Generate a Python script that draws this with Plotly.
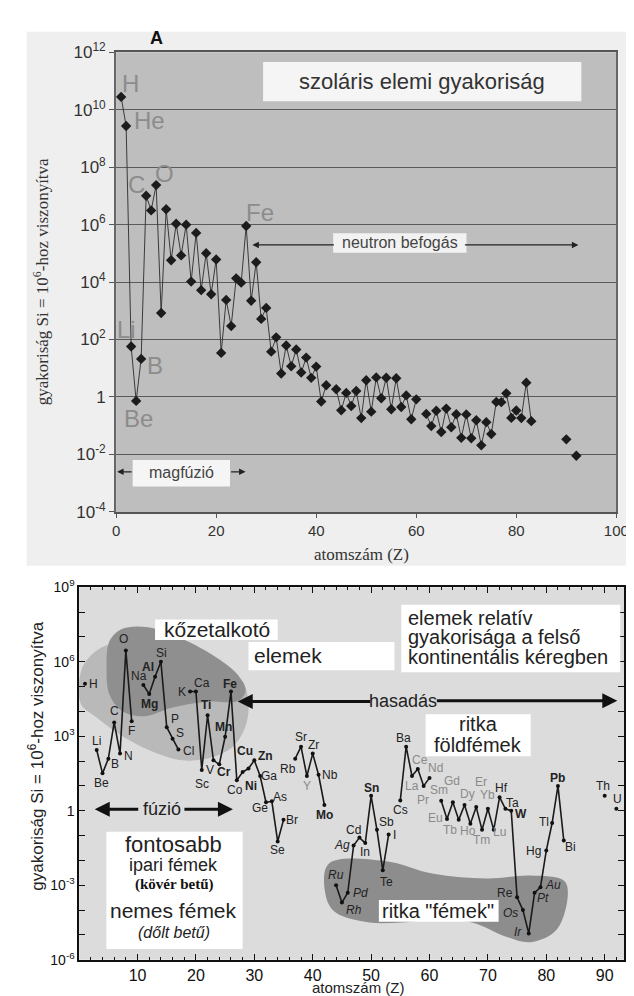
import numpy as np
import plotly.graph_objects as go

W, H = 634, 996

SYMBOLS = ["H","He","Li","Be","B","C","N","O","F","Ne","Na","Mg","Al","Si","P","S","Cl","Ar","K","Ca",
           "Sc","Ti","V","Cr","Mn","Fe","Co","Ni","Cu","Zn","Ga","Ge","As","Se","Br","Kr","Rb","Sr","Y","Zr",
           "Nb","Mo","Tc","Ru","Rh","Pd","Ag","Cd","In","Sn","Sb","Te","I","Xe","Cs","Ba","La","Ce","Pr","Nd",
           "Pm","Sm","Eu","Gd","Tb","Dy","Ho","Er","Tm","Yb","Lu","Hf","Ta","W","Re","Os","Ir","Pt","Au","Hg",
           "Tl","Pb","Bi","Po","At","Rn","Fr","Ra","Ac","Th","Pa","U"]

# --- panel A: solar abundances (Si = 1e6)
SOLAR_Z = list(range(1, 43)) + list(range(44, 61)) + list(range(62, 84)) + [90, 92]
SOLAR_VAL = [2.79e10, 2.72e9, 57.1, 0.73, 21.2, 1.01e7, 3.13e6, 2.38e7, 843, 3.44e6,
             5.74e4, 1.074e6, 8.49e4, 1.0e6, 1.04e4, 5.15e5, 5240, 1.01e5, 3770, 6.11e4,
             34.2, 2400, 293, 1.35e4, 9550, 9.0e5, 2250, 4.93e4, 522, 1260,
             37.8, 119, 6.56, 62.1, 11.8, 45, 7.09, 23.5, 4.64, 11.4,
             0.698, 2.55,
             1.86, 0.344, 1.39, 0.486, 1.61, 0.184, 3.82, 0.309, 4.81, 0.9,
             4.7, 0.372, 4.49, 0.446, 1.136, 0.167, 0.828,
             0.258, 0.097, 0.33, 0.0603, 0.394, 0.0889, 0.251, 0.0378, 0.248, 0.0367,
             0.154, 0.0207, 0.133, 0.0517, 0.675, 0.661, 1.34, 0.187, 0.34, 0.184,
             3.15, 0.144,
             0.0335, 0.009]

# --- bottom panel: upper continental crust (Si = 1e6)
CRUST_Z = [1] + list(range(3, 10)) + list(range(11, 18)) + list(range(19, 36)) + list(range(37, 43)) + \
          list(range(44, 54)) + list(range(55, 61)) + list(range(62, 84)) + [90, 92]
CRUST_VAL = [1.3e5,
             280, 32, 125, 3600, 200, 2.8e6, 4000,
             1.15e5, 5.0e4, 2.5e5, 1.0e6, 2300, 800, 290,
             6.3e4, 6.3e4, 44, 7000, 107, 74, 950, 6.3e4, 17, 36, 50, 107, 25, 2.2, 2.4, 0.058, 0.43,
             125, 380, 25, 200, 28, 1.7,
             1.0e-3, 2.0e-4, 5.0e-4, 0.04, 0.083, 0.05, 4.0, 0.17, 0.004, 0.11,
             2.6, 380, 25, 48, 10, 21,
             2.5, 0.47, 2.2, 0.43, 1.7, 0.3, 1.4, 0.17, 1.2, 0.17, 3.5, 1.2, 1.0,
             3.3e-4, 1.0e-4, 1.15e-5, 5.0e-4, 8.3e-4, 0.025, 0.32, 10, 0.063,
             4.0, 1.2]

BOLD = {"Mg", "Al", "Ti", "Mn", "Fe", "Cr", "Cu", "Zn", "Ni", "Mo", "Sn", "W", "Pb"}
ITALIC = {"Ru", "Rh", "Pd", "Ag", "Os", "Ir", "Pt", "Au"}
GRAY = {"La", "Ce", "Pr", "Nd", "Sm", "Eu", "Gd", "Tb", "Dy", "Ho", "Er", "Tm", "Yb", "Lu", "Y"}

# label offsets (pixels: right, up) for the crust panel
LBL = {"H": (9, 0), "Li": (0, 9), "Be": (-1, -10), "B": (7, -5), "C": (0, 11), "N": (8, -2),
       "O": (-2, 12), "F": (0, -10), "Na": (-4, 9), "Mg": (0, -10), "Al": (-7, 10), "Si": (1, 9),
       "P": (8, 8), "S": (7, 6), "Cl": (10, -1), "K": (-8, 0), "Ca": (6, 9), "Sc": (0, -14),
       "Ti": (-2, 10), "V": (-3, -10), "Cr": (5, -8), "Mn": (-2, 10), "Fe": (-1, 8), "Co": (-2, -10),
       "Ni": (8, -14), "Cu": (-3, 18), "Zn": (11, 4), "Ga": (9, 0), "Ge": (-6, -6), "As": (8, 4),
       "Se": (0, -9), "Br": (8, 0), "Rb": (-7, -10), "Sr": (0, 10), "Y": (0, -10), "Zr": (1, 9),
       "Nb": (11, 0), "Mo": (0, -10), "Ru": (0, 10), "Rh": (12, -7), "Pd": (13, 0), "Ag": (-12, 0),
       "Cd": (-6, 8), "In": (0, -9), "Sn": (0, 8), "Sb": (10, 8), "Te": (4, -12), "I": (6, 0),
       "Cs": (0, -10), "Ba": (-3, 9), "La": (0, -10), "Ce": (2, 9), "Pr": (-1, -14), "Nd": (6, 10),
       "Sm": (-2, 11), "Eu": (-12, 1), "Gd": (-1, 21), "Tb": (-9, -10), "Dy": (3, 11), "Ho": (-2, -7),
       "Er": (5, 25), "Tm": (-1, -10), "Yb": (0, 14), "Lu": (6, -2), "Hf": (2, 9), "Ta": (7, 6),
       "W": (10, -3), "Re": (-12, 4), "Os": (-12, -3), "Ir": (-11, 1), "Pt": (8, -5), "Au": (13, 2),
       "Hg": (-13, 0), "Tl": (-8, 1), "Pb": (0, 8), "Bi": (7, -6), "Th": (-2, 10), "U": (1, 10)}


def with_gaps(zs, vs):
    xs, ys = [], []
    prev = None
    for z, v in zip(zs, vs):
        if prev is not None and z - prev > 1:
            xs.append(None)
            ys.append(None)
        xs.append(z)
        ys.append(v)
        prev = z
    return xs, ys


def px(x):
    return x / W


def py(y):
    return 1 - y / H


SANS = "Liberation Sans, Arial, sans-serif"
SERIF = "Liberation Serif, Times New Roman, serif"

fig = go.Figure()

# ---------------- blobs (bottom panel decorations), defined in (Z, log10) space
BLOB_LIGHT = [(0.3, 5.6), (1.8, 6.2), (5.2, 6.7), (11.8, 6.64), (21.8, 5.93), (27.8, 5.26), (29.0, 4.28),
              (28.5, 3.41), (26.5, 2.62), (22.7, 2.15), (17.7, 2.03), (11.8, 2.46), (6.8, 3.09),
              (2.7, 3.8), (0.3, 4.3)]
BLOB_DARK = [(4.7, 5.77), (5.2, 6.83), (7.2, 7.31), (11.8, 7.39), (17.7, 6.91), (23.5, 6.17),
             (27.2, 5.46), (28.5, 4.83), (27.3, 4.43), (21.8, 4.39), (16.0, 4.16), (11.0, 3.8),
             (7.2, 4.04), (5.2, 4.67)]
BLOB_RARE = [(42.7, -2.14), (52.3, -2.02), (60.7, -2.54), (69.7, -2.73), (77.3, -2.61), (83.0, -2.81),
             (83.7, -3.32), (81.8, -4.78), (77.3, -5.29), (73.0, -5.06), (67.3, -4.5), (60.7, -4.39),
             (55.2, -4.5), (49.7, -4.5), (44.0, -4.11), (42.3, -3.48)]

for blob, col in [(BLOB_LIGHT, "#b9b9b9"), (BLOB_DARK, "#8f8f8f"), (BLOB_RARE, "#8d8d8d")]:
    bx = [p[0] for p in blob] + [blob[0][0]]
    by = [10 ** p[1] for p in blob] + [10 ** blob[0][1]]
    fig.add_trace(go.Scatter(x=bx, y=by, mode="lines", fill="toself", fillcolor=col,
                             line=dict(width=0, color=col, shape="spline", smoothing=1.0),
                             hoverinfo="skip", showlegend=False, xaxis="x2", yaxis="y2"))

# ---------------- data traces
sx, sy = with_gaps(SOLAR_Z, SOLAR_VAL)
fig.add_trace(go.Scatter(x=sx, y=sy, mode="lines+markers",
                         line=dict(color="#3a3a3a", width=1),
                         marker=dict(symbol="diamond", size=8, color="#1c1c1c"),
                         showlegend=False, xaxis="x", yaxis="y", connectgaps=False))

cx, cy = with_gaps(CRUST_Z, CRUST_VAL)
fig.add_trace(go.Scatter(x=cx, y=cy, mode="lines+markers",
                         line=dict(color="#1a1a1a", width=1.6),
                         marker=dict(symbol="circle", size=4, color="#111"),
                         showlegend=False, xaxis="x2", yaxis="y2", connectgaps=False))

# ---------------- shapes
shapes = [
    dict(type="rect", xref="paper", yref="paper", x0=px(15), x1=px(634), y0=py(558), y1=py(12),
         fillcolor="#efefef", line=dict(width=0), layer="below"),
    dict(type="rect", xref="x domain", yref="y domain", x0=0, x1=1, y0=0, y1=1,
         fillcolor="#bebebe", line=dict(width=0), layer="below"),
    dict(type="rect", xref="x2 domain", yref="y2 domain", x0=0, x1=1, y0=0, y1=1,
         fillcolor="#dcdcdc", line=dict(width=0), layer="below"),
]
BOXES = [((258, 43, 585, 83), "#f5f5f5"), ((330, 218, 467, 238), "#f2f2f2"), ((124, 450, 224, 477), "#f5f5f5"),
         ((147, 613, 273, 634), "#ffffff"), ((243, 636, 393, 665), "#ffffff"), ((400, 598, 625, 667), "#ffffff"),
         ((425, 710, 533, 753), "#ffffff"), ((97, 830, 237, 950), "#ffffff"), ((377, 900, 500, 922), "#ffffff")]
for (x0, y0, x1, y1), col in BOXES:
    shapes.append(dict(type="rect", xref="paper", yref="paper", x0=px(x0), x1=px(x1), y0=py(y1), y1=py(y0),
                       fillcolor=col, line=dict(width=0), layer="above"))

ann = []


def txt(x, y, s, size, color="#222", family=SANS, **kw):
    d = dict(x=px(x), y=py(y), xref="paper", yref="paper", text=s, showarrow=False,
             font=dict(size=size, color=color, family=family), xanchor="center", yanchor="middle")
    d.update(kw)
    ann.append(d)


def arrow(xh, y, dx, width, color="#222", head=2, size=1.0):
    ann.append(dict(x=px(xh), y=py(y), xref="paper", yref="paper", text="", showarrow=True,
                    ax=dx, ay=0, arrowhead=head, arrowsize=size, arrowwidth=width, arrowcolor=color,
                    standoff=0, startstandoff=0))


# top panel texts
txt(148, 18, "<b>A</b>", 18, "#111")
txt(421, 63, "szoláris elemi gyakoriság", 22, "#333")
txt(399, 228, "neutron befogás", 16, "#444")
txt(174, 463, "magfúzió", 16, "#444")
arrow(247, 230, 83, 1.3)
arrow(582, 230, -115, 1.3)
arrow(108, 462, 16, 1.3)
arrow(240, 462, -16, 1.3)
for s, x, y in [("H", 122, 65), ("He", 141, 103), ("C", 128, 168), ("O", 157, 157), ("Fe", 255, 197),
                ("Li", 118, 317), ("B", 147, 353), ("Be", 130, 407)]:
    txt(x, y, s, 24, "#8c8c8c")
txt(30, 268, "gyakoriság Si = 10<sup>6</sup>-hoz viszonyítva", 17, "#333", SERIF, textangle=-90)
txt(359, 547, "atomszám (Z)", 17, "#333", SERIF)

# bottom panel texts
txt(211, 623, "kőzetalkotó", 21)
txt(284, 650, "elemek", 21)
txt(405, 611, "elemek relatív", 20, xanchor="left")
txt(405, 631, "gyakorisága a felső", 20, xanchor="left")
txt(405, 651, "kontinentális kéregben", 20, xanchor="left")
txt(402, 696, "hasadás", 18, bgcolor="#dcdcdc")
arrow(232, 697, 134, 3, "#111")
arrow(622, 696, -182, 3, "#111")
txt(479, 720, "ritka", 20)
txt(479, 741, "földfémek", 20)
txt(154, 807, "fúzió", 18)
arrow(85, 807, 45, 3, "#111")
arrow(227, 807, -50, 3, "#111")
txt(166, 843, "fontosabb", 22)
txt(166, 864, "ipari fémek", 18)
txt(166, 884, "<b>(kövér betű)</b>", 15, "#111", SERIF)
txt(166, 911, "nemes fémek", 21)
txt(166, 933, "<i>(dőlt betű)</i>", 16)
txt(438, 911, 'ritka "fémek"', 20)
txt(25, 753, "gyakoriság Si = 10<sup>6</sup>-hoz viszonyítva", 17, "#222", textangle=-90)
txt(356, 989, "atomszám (Z)", 15)

# element labels on the crust curve
for z, v in zip(CRUST_Z, CRUST_VAL):
    s = SYMBOLS[z - 1]
    dx, dy = LBL.get(s, (0, 8))
    t = s
    col = "#222"
    if s in BOLD:
        t = "<b>%s</b>" % s
    if s in ITALIC:
        t = "<i>%s</i>" % s
    if s in GRAY:
        col = "#8a8a8a"
    ann.append(dict(x=z, y=np.log10(v), xref="x2", yref="y2", text=t, showarrow=False,
                    xshift=dx, yshift=dy, font=dict(size=12, color=col, family=SANS)))

top_y_ticks = [10.0 ** k for k in range(-4, 13, 2)]
top_y_text = ["1" if k == 0 else "10<sup>%d</sup>" % k for k in range(-4, 13, 2)]
bot_y_ticks = [10.0 ** k for k in range(-6, 10)]
bot_y_text = [("1" if k == 0 else "10<sup>%d</sup>" % k) if k % 3 == 0 else " " for k in range(-6, 10)]

fig.update_layout(
    width=W, height=H, margin=dict(l=0, r=0, t=0, b=0),
    paper_bgcolor="white", plot_bgcolor="rgba(0,0,0,0)",
    showlegend=False, shapes=shapes, annotations=ann,
    xaxis=dict(domain=[px(107), px(621)], range=[0, 100], tickvals=[0, 20, 40, 60, 80, 100],
               showgrid=False, zeroline=False, showline=True, linecolor="#555", linewidth=2, mirror=True,
               ticks="outside", ticklen=4, tickcolor="#555",
               tickfont=dict(size=15, color="#333", family=SANS), anchor="y"),
    yaxis=dict(domain=[py(503), py(33)], type="log", range=[-4, 12], tickvals=top_y_ticks,
               ticktext=top_y_text, showgrid=True, gridcolor="#5a5a5a", gridwidth=1.3,
               zeroline=False, showline=True, linecolor="#666", linewidth=2, mirror=True,
               ticks="outside", ticklen=5, tickcolor="#555",
               tickfont=dict(size=17, color="#333", family=SANS), anchor="x"),
    xaxis2=dict(domain=[px(69), px(629)], range=[0, (629 - 69) / 6.0], tickvals=list(range(10, 100, 10)),
                showgrid=False, zeroline=False, showline=True, linecolor="#111", linewidth=1.5,
                mirror="ticks", ticks="inside", ticklen=6, tickcolor="#111",
                minor=dict(tickmode="linear", tick0=0, dtick=2, ticks="inside", ticklen=3, tickcolor="#111"),
                tickfont=dict(size=16, color="#111", family=SANS), anchor="y2"),
    yaxis2=dict(domain=[py(961), py(580)], type="log", range=[-6, 9], tickvals=bot_y_ticks,
                ticktext=bot_y_text, showgrid=False, zeroline=False, showline=True, linecolor="#111",
                linewidth=1.5, mirror="ticks", ticks="inside", ticklen=6, tickcolor="#111",
                tickfont=dict(size=14, color="#111", family=SANS), anchor="x2"),
)

fig.write_html("out.html")
